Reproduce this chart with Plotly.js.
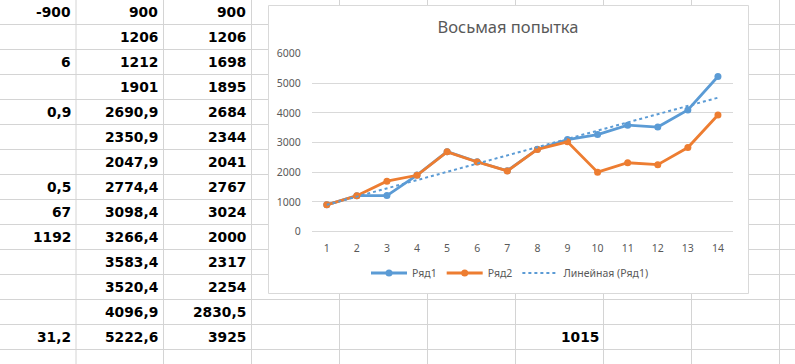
<!DOCTYPE html>
<html><head><meta charset="utf-8">
<script src="https://cdn.plot.ly/plotly-3.0.1.min.js"></script>
<style>html,body{margin:0;padding:0;background:#fff;}#chart{width:795px;height:364px;}</style>
</head><body><div id="chart"></div>
<script>
// ---- data ----
const categories = [1,2,3,4,5,6,7,8,9,10,11,12,13,14];
const series1 = [900,1206,1212,1901,2690.9,2350.9,2047.9,2774.4,3098.4,3266.4,3583.4,3520.4,4096.9,5222.6];
const series2 = [900,1206,1698,1895,2684,2344,2041,2767,3024,2000,2317,2254,2830.5,3925];
const colA = [-900,null,6,null,0.9,null,null,0.5,67,1192,null,null,null,31.2];
const extraCell = 1015;
const yTicks = [0,1000,2000,3000,4000,5000,6000];
const seriesNames = ['Ряд1','Ряд2','Линейная (Ряд1)'];
const chartTitle = 'Восьмая попытка';

// ---- geometry helpers (pixel -> paper) ----
const W = 795, H = 364;
const px = x => x / W;
const py = y => 1 - y / H;

// linear trend of series1 (as Excel's linear trendline)
const n = categories.length;
const mx = categories.reduce((a,b)=>a+b,0)/n;
const my = series1.reduce((a,b)=>a+b,0)/n;
let sxy = 0, sxx = 0;
for (let i=0;i<n;i++){ sxy += (categories[i]-mx)*(series1[i]-my); sxx += (categories[i]-mx)**2; }
const slope = sxy/sxx, icpt = my - slope*mx;
const trendX = [categories[0], categories[n-1]];
const trendY = trendX.map(x => icpt + slope*x);

const fmt = v => String(v).replace('.', ',');

// ---- spreadsheet grid ----
const gridColor = '#d4d4d4';
const shapes = [];
for (let k=0;k<14;k++){
  const y = 24.5 + 25*k;
  shapes.push({type:'line', layer:'below', xref:'paper', yref:'paper', x0:0, x1:1, y0:py(y), y1:py(y), line:{color:gridColor, width:1}});
}
[76, 163.5, 251.5, 339.5, 427.5, 515.5, 603.5, 691.5, 779.5].forEach(x => {
  shapes.push({type:'line', layer:'below', xref:'paper', yref:'paper', x0:px(x), x1:px(x), y0:0, y1:1, line:{color:gridColor, width:1}});
});
// chart area box
shapes.push({type:'rect', layer:'below', xref:'paper', yref:'paper', x0:px(268.5), x1:px(748.5), y0:py(293.5), y1:py(5.5), fillcolor:'#ffffff', line:{color:'#d9d9d9', width:1}});

// ---- cell texts ----
const cellFont = {family:'DejaVu Sans', size:13.8, color:'#000000', weight:700};
const annotations = [];
const rowY = k => py(12 + 25*k);
function cell(text, xRight, k){
  annotations.push({text:text, xref:'paper', yref:'paper', x:px(xRight), y:rowY(k), xanchor:'right', yanchor:'middle', showarrow:false, font:cellFont});
}
for (let k=0;k<14;k++){
  if (colA[k] !== null) cell(fmt(colA[k]), 72.5, k);
  cell(fmt(series1[k]), 160, k);
  cell(fmt(series2[k]), 248, k);
}
cell(fmt(extraCell), 600.5, 13);

const blue = '#5B9BD5', orange = '#ED7D31', txt = '#595959';
const tickFont = {family:'Noto Sans, Open Sans, sans-serif', size:10.5, color:txt};

const traces = [
  {x:categories, y:series1, name:seriesNames[0], type:'scatter', mode:'lines+markers',
   line:{color:blue, width:2.8}, marker:{color:blue, size:7}},
  {x:categories, y:series2, name:seriesNames[1], type:'scatter', mode:'lines+markers',
   line:{color:orange, width:2.8}, marker:{color:orange, size:7}},
  {x:trendX, y:trendY, name:seriesNames[2], type:'scatter', mode:'lines',
   line:{color:blue, width:2, dash:'dot'}}
];

const layout = {
  width:W, height:H,
  margin:{l:0, r:0, t:0, b:0, pad:0},
  paper_bgcolor:'#ffffff', plot_bgcolor:'rgba(0,0,0,0)',
  title:{text:chartTitle, x:px(508), y:py(27.5), xref:'paper', yref:'paper', xanchor:'center', yanchor:'middle',
         font:{family:'Noto Sans, Open Sans, sans-serif', size:16.5, color:txt}},
  xaxis:{domain:[px(311.7), px(733)], range:[0.5, 14.5], tickvals:categories, ticktext:categories.map(String),
         showgrid:false, zeroline:false, showline:false, ticks:'', ticklabelstandoff:9, tickfont:tickFont, fixedrange:true},
  yaxis:{domain:[py(231.5), py(53.5)], range:[0, 6000], tickvals:yTicks, ticktext:yTicks.map(String),
         showgrid:true, gridcolor:'#d9d9d9', gridwidth:1, zeroline:true, zerolinecolor:'#d9d9d9', zerolinewidth:1,
         showline:false, ticks:'', ticklabelstandoff:10, tickfont:tickFont, fixedrange:true},
  showlegend:true,
  legend:{orientation:'h', x:px(510), xanchor:'center', y:py(273), yanchor:'middle', itemwidth:36,
          font:{family:'Noto Sans, Open Sans, sans-serif', size:10.5, color:txt}, bgcolor:'rgba(0,0,0,0)', traceorder:'normal'},
  shapes:shapes,
  annotations:annotations
};

Plotly.newPlot('chart', traces, layout, {staticPlot:true, displayModeBar:false});
</script>
</body></html>
